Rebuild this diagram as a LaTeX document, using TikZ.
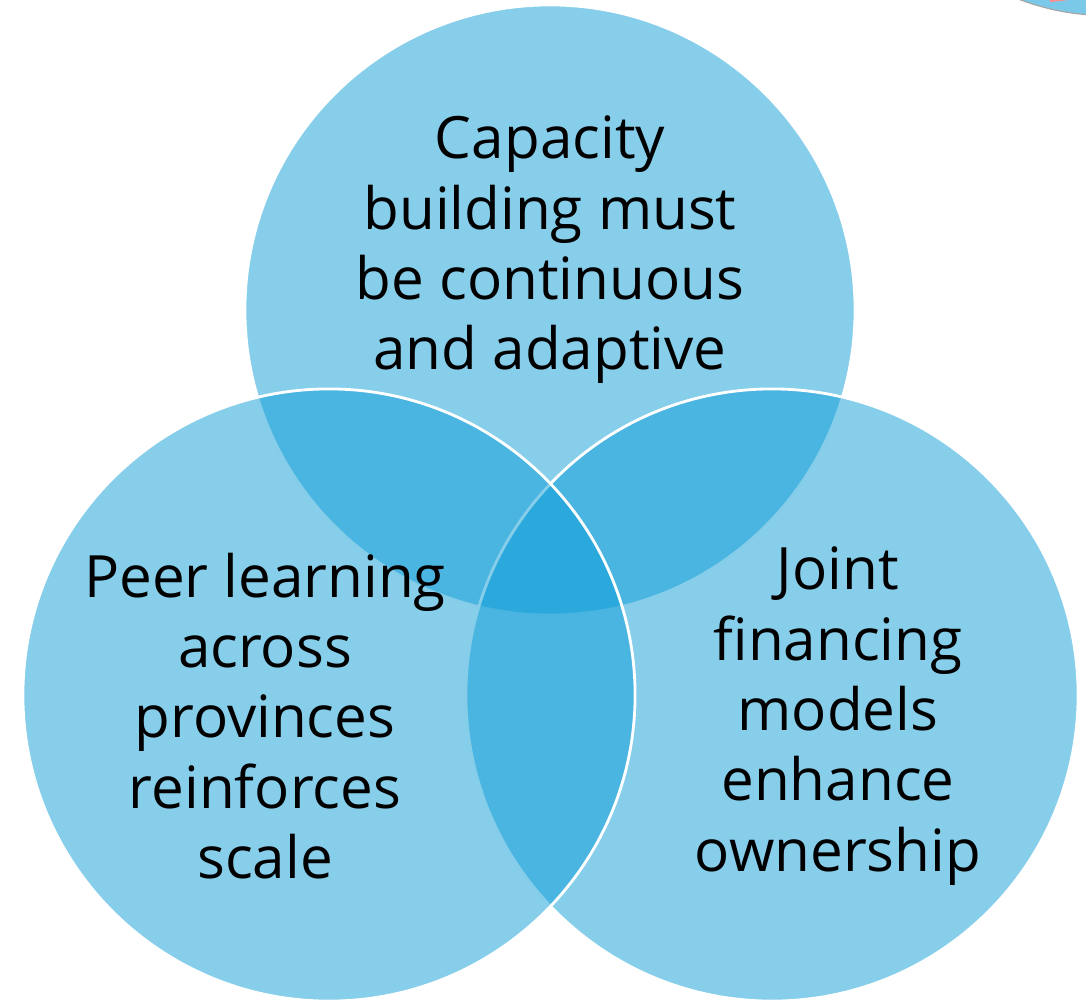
\documentclass[tikz,border=0pt]{standalone}
\usepackage{fontspec}
\setmainfont{Open Sans}
\usepackage{tikz}
\usetikzlibrary{positioning}
\definecolor{vennblue}{RGB}{15,157,215}

\begin{document}
\begin{tikzpicture}[
    x=0.025cm, y=-0.025cm, % one unit is one pixel of the reference
    venn/.style={circle, draw=white, line width=2pt, fill=vennblue, fill opacity=0.5, inner sep=0pt},
    label/.style={align=center, font=\fontsize{41.5}{50}\selectfont, text=black}
]
    % 1. Page size
    \useasboundingbox (0,0) rectangle (1086,1000);
    \clip (0,0) rectangle (1086,1000);

    % 2. Piece of a shape cut off at the top right
    \fill[vennblue!55] (1018,-1) .. controls (1045,9) and (1065,13) .. (1090,15) -- (1090,-5) -- cycle;
    \draw[gray!70, line width=0.8pt] (1018,-1) .. controls (1045,9) and (1065,13) .. (1090,15);
    \draw[red!45, line width=1.5pt] (1050,1) -- (1068,-1);

    % 3. The three circles (top, right, left)
    \node[venn, minimum size=15.25cm] (capacity) at (550,310) {};
    \node[venn, minimum size=15.3cm] (financing) at (772,695) {};
    \node[venn, minimum size=15.3cm] (peer) at (329,695) {};

    % 4. The texts
    \node[label] (capacitytext) at (550,250)
        {Capacity\\building must\\be continuous\\and adaptive};
    \node[label] (peertext) at (265,716)
        {Peer learning\\across\\provinces\\reinforces\\scale};
    \node[label] (financingtext) at (838,716)
        {Joint\\financing\\models\\enhance\\ownership};
\end{tikzpicture}
\end{document}
